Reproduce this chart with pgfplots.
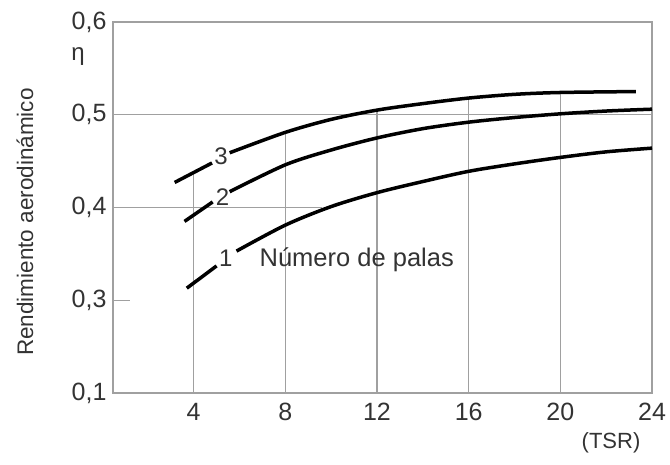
\documentclass[border=0pt]{standalone}
\usepackage{fontspec}
\setmainfont{Liberation Sans}
\usepackage{pgfplots}
\pgfplotsset{compat=1.18}
\definecolor{txt}{HTML}{333333}
\definecolor{gr}{HTML}{A0A0A0}
\begin{document}
\begin{tikzpicture}[x=1pt,y=1pt]
\useasboundingbox (0,0) rectangle (670,465);
\begin{axis}[at={(113pt,72pt)}, anchor=south west, scale only axis,
  width=539pt, height=371pt,
  xmin=0.48, xmax=24, ymin=0.2, ymax=0.6,
  axis line style={gr, line width=1.3pt},
  xtick={4,8,12,16,20,24},
  xticklabels={4,8,12,16,20,24},
  ytick={0.2,0.3,0.4,0.5,0.6},
  yticklabels={{0,1},{0,3},{0,4},{0,5},{0,6}},
  tick style={draw=none},
  tick label style={font=\fontsize{25}{25}\selectfont, text=txt},
  xticklabel style={yshift=-7pt},
  yticklabel style={xshift=-3pt},
  clip=false,
  /pgf/number format/assume math mode=true]
% grid pieces
\draw[gr, line width=1.3pt] (axis cs:4,0.2) -- (axis cs:4,0.436);
\draw[gr, line width=1.3pt] (axis cs:8,0.2) -- (axis cs:8,0.481);
\draw[gr, line width=1.3pt] (axis cs:12,0.2) -- (axis cs:12,0.505);
\draw[gr, line width=1.3pt] (axis cs:16,0.2) -- (axis cs:16,0.518);
\draw[gr, line width=1.3pt] (axis cs:20,0.2) -- (axis cs:20,0.524);
\draw[gr, line width=1.3pt] (axis cs:0.48,0.5) -- (axis cs:24,0.5);
\draw[gr, line width=1.3pt] (axis cs:0.48,0.4) -- (axis cs:9.6,0.4);
\draw[gr, line width=1.3pt] (axis cs:0.48,0.3) -- (axis cs:1.2,0.3);
% curve 3
\addplot[black, line width=3.5pt, smooth] coordinates {(3.17,0.427) (4.8,0.448)};
\addplot[black, line width=3.5pt, smooth] coordinates {(5.57,0.459) (8,0.481) (10,0.495) (12,0.505) (14,0.512) (16,0.518) (18,0.522) (20,0.524) (23.3,0.525)};
% curve 2
\addplot[black, line width=3.5pt, smooth] coordinates {(3.6,0.385) (4.83,0.406)};
\addplot[black, line width=3.5pt, smooth] coordinates {(5.57,0.417) (8,0.446) (10,0.462) (12,0.475) (14,0.485) (16,0.492) (18,0.497) (20,0.501) (22,0.504) (24,0.506)};
% curve 1
\addplot[black, line width=3.5pt, smooth] coordinates {(3.7,0.313) (5.0,0.337)};
\addplot[black, line width=3.5pt, smooth] coordinates {(5.87,0.353) (8,0.381) (10,0.401) (12,0.416) (14,0.428) (16,0.439) (18,0.447) (20,0.454) (22,0.460) (24,0.464)};
\node[text=txt, font=\fontsize{24}{24}\selectfont] at (axis cs:5.2,0.455) {3};
\node[text=txt, font=\fontsize{24}{24}\selectfont] at (axis cs:5.26,0.411) {2};
\node[text=txt, font=\fontsize{24}{24}\selectfont] at (axis cs:5.4,0.345) {1};
\node[text=txt, font=\fontsize{25.5}{25.5}\selectfont, anchor=west, inner sep=0pt] at (axis cs:6.87,0.344) {Número de palas};
\end{axis}
\node[text=txt, font=\fontsize{24}{24}\selectfont] at (78,408) {η};
\node[text=txt, font=\fontsize{22}{22}\selectfont] at (611,22) {(TSR)};
\node[text=txt, font=\fontsize{22.5}{22.5}\selectfont, rotate=90] at (25,243) {Rendimiento aerodinámico};
\end{tikzpicture}
\end{document}
